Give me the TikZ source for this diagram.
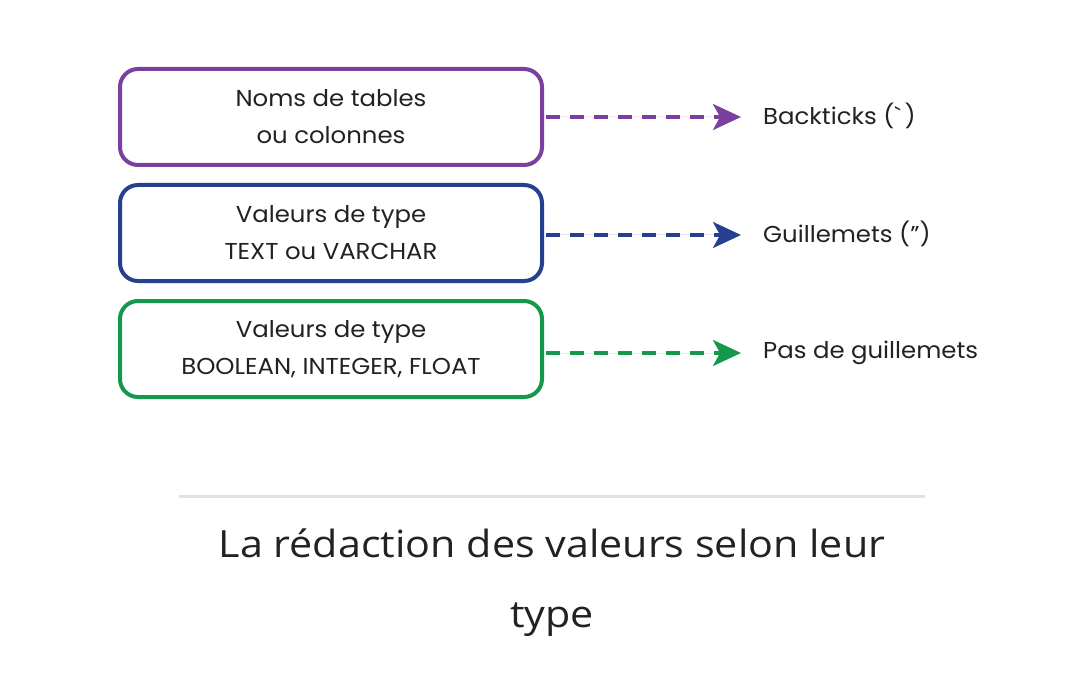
\documentclass[tikz,border=0pt]{standalone}
\usepackage{fontspec}
\setmainfont{Poppins}[FakeStretch=1.06]
\newfontfamily\capfont{Open Sans}[FakeStretch=1.1]
\usetikzlibrary{arrows.meta}
\definecolor{cpurple}{HTML}{7B3F9E}
\definecolor{cblue}{HTML}{263F8E}
\definecolor{cgreen}{HTML}{14994C}
\definecolor{ctext}{HTML}{222222}
\definecolor{cline}{HTML}{E2E2E2}
\tikzset{
  box/.style={draw, line width=4pt, rounded corners=18pt, minimum width=422pt, minimum height=96pt, align=center, text=ctext, font=\fontsize{23}{37}\selectfont, inner sep=0pt},
  lab/.style={anchor=west, text=ctext, font=\fontsize{23}{28}\selectfont, inner sep=0pt},
  conn/.style={line width=3.2pt, dash pattern=on 14pt off 10pt, -{Stealth[length=28pt,width=26pt,inset=7pt]}},
}
\begin{document}
\begin{tikzpicture}[x=1pt,y=-1pt]
\useasboundingbox[fill=white] (0,0) rectangle (1080,698);
\node[box, draw=cpurple] (b1) at (331,117) {Noms de tables\\ou colonnes};
\node[box, draw=cblue] (b2) at (331,233) {Valeurs de type\\TEXT ou VARCHAR};
\node[box, draw=cgreen] (b3) at (331,349) {Valeurs de type\\BOOLEAN, INTEGER, FLOAT};
\node[lab] (l1) at (763,116) {Backticks ({\addfontfeature{Ligatures=TeXOff}`}\,)};
\node[lab] (l2) at (763,234) {Guillemets (”)};
\node[lab] (l3) at (763,353) {Pas de guillemets};
\coordinate (t1) at (741,117);
\coordinate (t2) at (741,235);
\coordinate (t3) at (741,353);
\draw[conn, draw=cpurple, fill=cpurple] (b1.east |- t1) ++(2,0) -- (t1);
\draw[conn, draw=cblue, fill=cblue] (b2.east |- t2) ++(2,0) -- (t2);
\draw[conn, draw=cgreen, fill=cgreen] (b3.east |- t3) ++(2,0) -- (t3);
\coordinate (s1) at (179,496);
\coordinate (s2) at (925,496);
\draw[cline, line width=3pt] (s1) -- (s2);
\node[align=center, text=ctext, font=\capfont\fontsize{37.5}{70}\selectfont, inner sep=0pt] (cap) at (552,583) {La rédaction des valeurs selon leur\\type};
\end{tikzpicture}
\end{document}
